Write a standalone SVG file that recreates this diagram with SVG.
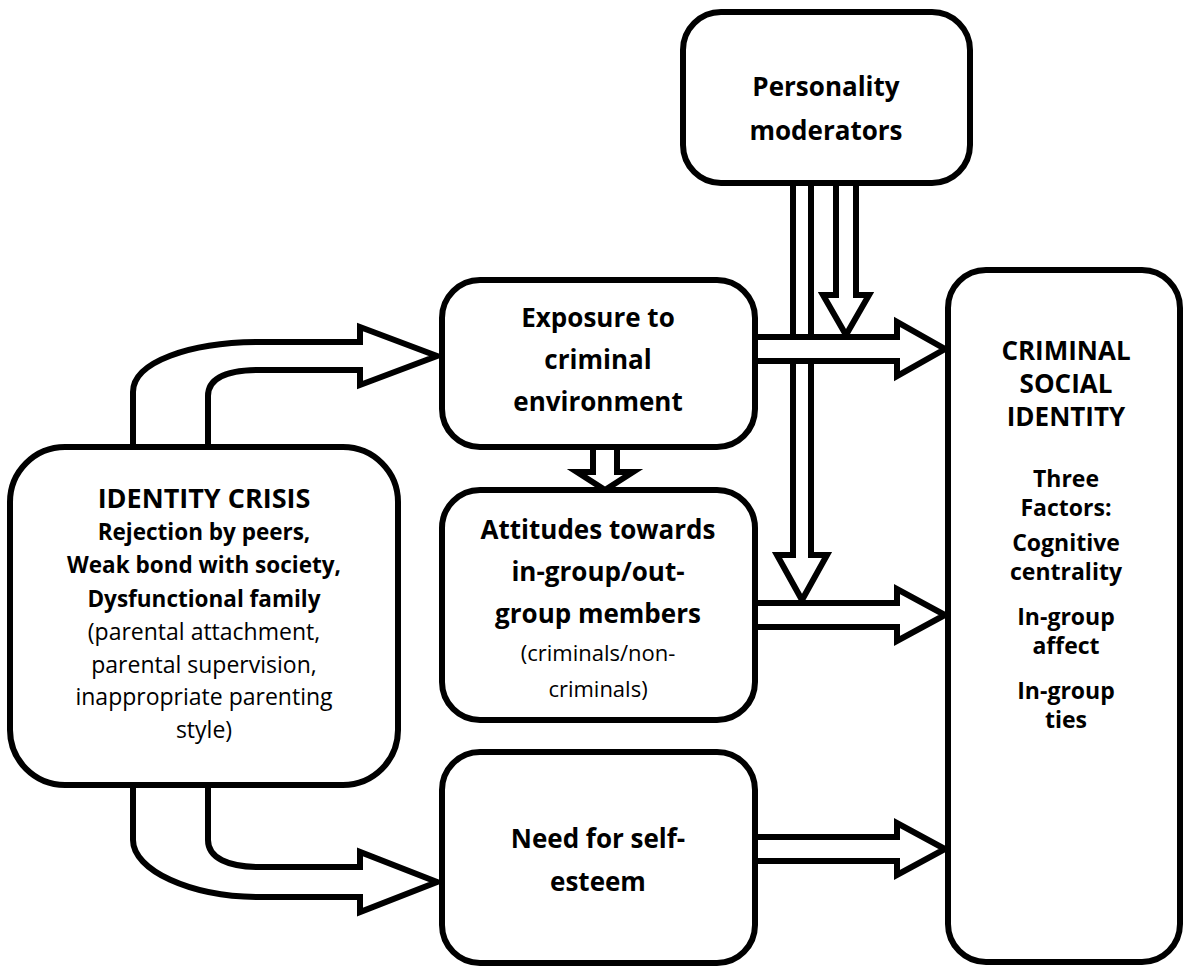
<svg xmlns="http://www.w3.org/2000/svg" width="1184" height="976" viewBox="0 0 1184 976">
<style>
.box{fill:#fff;stroke:#000;stroke-width:6}
.arr{fill:#fff;stroke:#000;stroke-width:6;stroke-linejoin:miter}
text{font-family:"Open Sans","Liberation Sans",sans-serif;fill:#000;text-anchor:middle}
.b{font-weight:bold}
.h{font-size:26px}
.hh{font-size:27px}
.m{font-size:22.5px}
.r{font-size:23px}
.s{font-size:22px}
.c{font-size:23px}
</style>
<rect width="1184" height="976" fill="#fff"/>
<g id="connectors">
  <path class="arr" d="M793,183 V555 H777 L802,600 L827,555 H811 V183"/>
  <path class="arr" d="M836,183 V295 H823 L846,335 L869,295 H856 V183"/>
  <path class="arr" d="M755,337 H897 V322 L945,349 L897,376 V361 H755"/>
  <path class="arr" d="M755,603 H897 V589 L945,615 L897,641 V627 H755"/>
  <path class="arr" d="M755,837 H897 V823 L945,849 L897,875 V861 H755"/>
  <path class="arr" d="M593,447 V472 H577 L605,490 L633,472 H617 V447"/>
  <path class="arr" d="M133,447 V392 C133,362 190,342 260,342 H360 V327 L437,356 L360,385 V370 H260 C228,370 208,378 208,396 V447"/>
  <path class="arr" d="M133,785 V840 C133,870 190,897 260,897 H360 V912 L437,882 L360,852 V867 H260 C228,867 208,858 208,840 V785"/>
</g>
<g id="personality">
  <rect class="box" x="683" y="12" width="287" height="171" rx="38"/>
  <text class="b h" x="826" y="96">Personality</text>
  <text class="b h" x="826" y="140">moderators</text>
</g>
<g id="exposure">
  <rect class="box" x="442" y="280" width="313" height="167" rx="38"/>
  <text class="b h" x="598" y="327">Exposure to</text>
  <text class="b h" x="598" y="369">criminal</text>
  <text class="b h" x="598" y="411">environment</text>
</g>
<g id="attitudes">
  <rect class="box" x="442" y="490" width="313" height="230" rx="38"/>
  <text class="b h" x="598" y="539">Attitudes towards</text>
  <text class="b h" x="598" y="581">in-group/out-</text>
  <text class="b h" x="598" y="623">group members</text>
  <text class="s" x="598" y="661">(criminals/non-</text>
  <text class="s" x="598" y="697">criminals)</text>
</g>
<g id="need">
  <rect class="box" x="442" y="752" width="313" height="211" rx="38"/>
  <text class="b h" x="598" y="848">Need for self-</text>
  <text class="b h" x="598" y="891">esteem</text>
</g>
<g id="identity">
  <rect class="box" x="10" y="447" width="388" height="338" rx="55"/>
  <text class="b hh" x="204" y="508">IDENTITY CRISIS</text>
  <text class="b m" x="204" y="540">Rejection by peers,</text>
  <text class="b m" x="204" y="573">Weak bond with society,</text>
  <text class="b m" x="204" y="607">Dysfunctional family</text>
  <text class="r" x="204" y="640">(parental attachment,</text>
  <text class="r" x="204" y="673">parental supervision,</text>
  <text class="r" x="204" y="705">inappropriate parenting</text>
  <text class="r" x="204" y="738">style)</text>
</g>
<g id="csi">
  <rect class="box" x="948" y="270" width="232" height="692" rx="38"/>
  <text class="b h" x="1066" y="360">CRIMINAL</text>
  <text class="b h" x="1066" y="393">SOCIAL</text>
  <text class="b h" x="1066" y="426">IDENTITY</text>
  <text class="b c" x="1066" y="487">Three</text>
  <text class="b c" x="1066" y="516">Factors:</text>
  <text class="b c" x="1066" y="551">Cognitive</text>
  <text class="b c" x="1066" y="580">centrality</text>
  <text class="b c" x="1066" y="625">In-group</text>
  <text class="b c" x="1066" y="654">affect</text>
  <text class="b c" x="1066" y="699">In-group</text>
  <text class="b c" x="1066" y="728">ties</text>
</g>
</svg>
